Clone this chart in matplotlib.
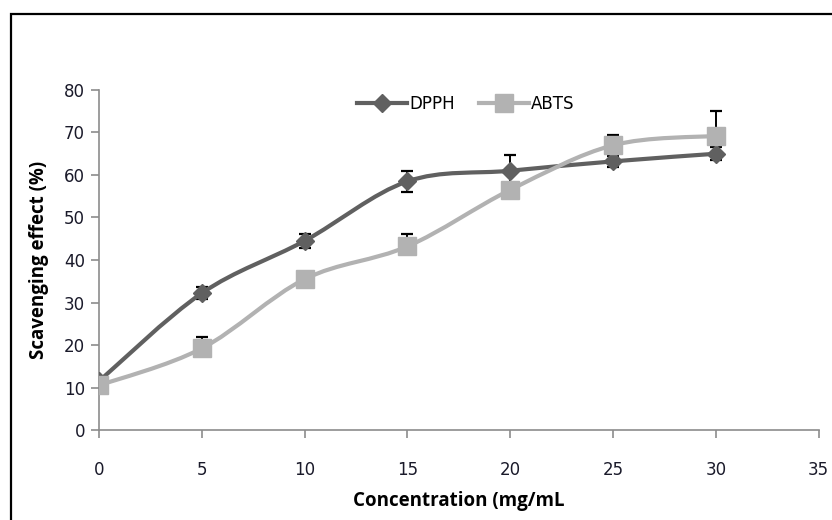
import numpy as np
import matplotlib
matplotlib.use("Agg")
import matplotlib.pyplot as plt
from matplotlib.path import Path
from matplotlib.patches import PathPatch, Rectangle

# Данні
conc = [0, 5, 10, 15, 20, 25, 30]
dpph = [11.5, 32.2, 44.5, 58.5, 61.0, 63.2, 65.0]
dpph_err = [0.8, 1.4, 1.6, 2.4, 3.8, 1.3, 1.5]
abts = [10.5, 19.2, 35.5, 43.2, 56.5, 67.0, 69.2]
abts_err = [0.8, 2.6, 1.0, 3.0, 1.0, 2.4, 5.8]

DARK = "#606060"
LIGHT = "#b2b2b2"


# Згладжена лінія як в Excel (Catmull-Rom -> Bezier)
def smooth_path(xs, ys):
    pts = np.column_stack([xs, ys]).astype(float)
    verts = [pts[0]]
    codes = [Path.MOVETO]
    n = len(pts)
    for i in range(n - 1):
        p0 = pts[i - 1] if i > 0 else pts[i]
        p1, p2 = pts[i], pts[i + 1]
        p3 = pts[i + 2] if i + 2 < n else pts[i + 1]
        verts += [p1 + (p2 - p0) / 6, p2 - (p3 - p1) / 6, p2]
        codes += [Path.CURVE4] * 3
    return Path(verts, codes)


fig = plt.figure(figsize=(8.32, 5.2), dpi=100)
ax = fig.add_axes([0.119, 0.173, 0.865, 0.654])

# DPPH - похибка в обидва боки, ABTS - тільки вгору
zeros = [0] * len(conc)
for ys, err, col in [(dpph, dpph_err, DARK),
                     (abts, [zeros, abts_err], LIGHT)]:
    ax.errorbar(conc, ys, yerr=err, fmt="none", ecolor="black",
                elinewidth=1.4, capsize=4, capthick=1.6, zorder=2)
    ax.add_patch(PathPatch(smooth_path(conc, ys), facecolor="none",
                           edgecolor=col, lw=3, zorder=3))

ax.plot(conc, dpph, ls="none", marker="D", ms=9, color=DARK, zorder=4)
ax.plot(conc, abts, ls="none", marker="s", ms=13, color=LIGHT, zorder=5)

# Легенда
ax.plot([], [], color=DARK, lw=3, marker="D", ms=9, label="DPPH")
ax.plot([], [], color=LIGHT, lw=3, marker="s", ms=13, label="ABTS")
ax.legend(loc="upper center", bbox_to_anchor=(0.51, 1.03), ncol=2,
          frameon=False, handlelength=3.0, handletextpad=0.15,
          columnspacing=1.4, prop={"family": "DejaVu Sans", "size": 12})

ax.set_xlim(0, 35)
ax.set_ylim(0, 80)
ax.set_xticks(range(0, 36, 5))
ax.set_yticks(range(0, 81, 10))
for side in ["top", "right"]:
    ax.spines[side].set_visible(False)
for side in ["left", "bottom"]:
    ax.spines[side].set_color("#8c8c8c")
    ax.spines[side].set_linewidth(1.2)
ax.tick_params(axis="both", direction="out", length=6, width=1.2,
               color="#8c8c8c", labelsize=12, labelcolor="#1a1a2a")
ax.tick_params(axis="x", pad=16)
ax.tick_params(axis="y", pad=4)

ax.set_xlabel("Concentration (mg/mL", fontsize=13.5, fontweight="bold",
              family="Open Sans", labelpad=9)
ax.set_ylabel("Scavenging effect (%)", fontsize=13.5, fontweight="bold",
              family="Open Sans", labelpad=11)

# Рамка навколо рисунка
fig.patches.append(Rectangle((11 / 832, -0.1), 1.2, 1 - 14 / 520 + 0.1,
                             transform=fig.transFigure, fill=False,
                             edgecolor="black", lw=1.6))

fig.savefig("out.png", dpi=100)
